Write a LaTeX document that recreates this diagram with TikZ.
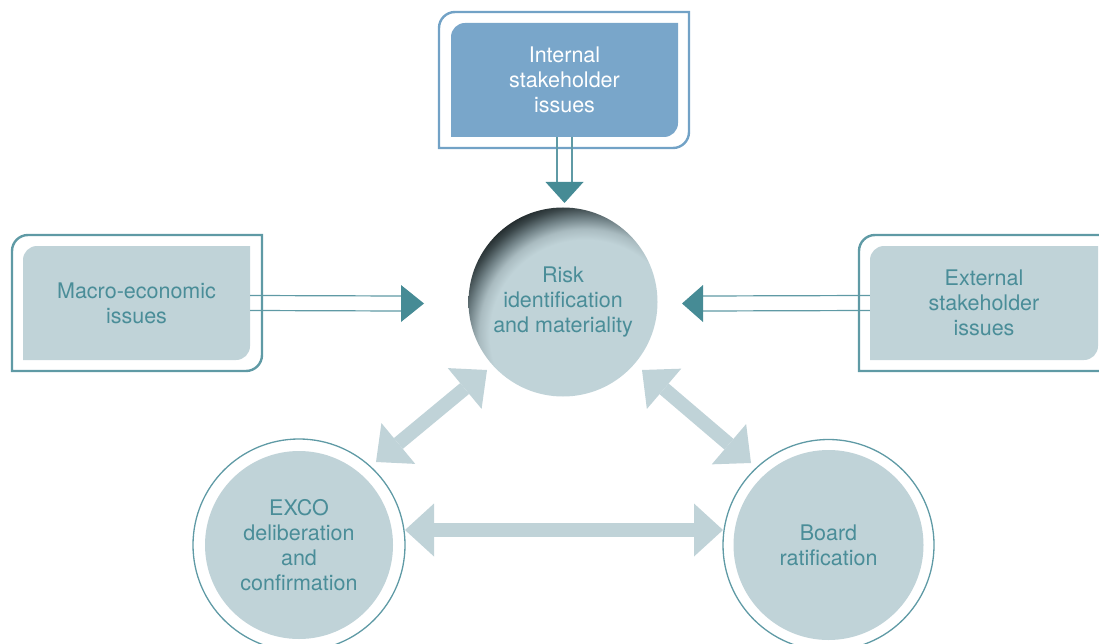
\documentclass[tikz,border=0pt]{standalone}
\usepackage{fontspec}
\setmainfont{TeX Gyre Heros}
\usetikzlibrary{arrows.meta}
\definecolor{lightfill}{HTML}{C0D3D8}
\definecolor{tealtext}{HTML}{4A8D98}
\definecolor{framec}{HTML}{5F9AA5}
\definecolor{headc}{HTML}{468B95}
\definecolor{topfill}{HTML}{79A6CA}
\definecolor{topframe}{HTML}{72A2C6}
\definecolor{shadowc}{HTML}{1E2628}
\definecolor{shadowa}{HTML}{A9BBC0}
\definecolor{shadowb}{HTML}{718287}
\definecolor{shadowd}{HTML}{3A4649}
\pgfdeclareradialshading{innershadow}{\pgfpoint{0bp}{0bp}}{color(0bp)=(lightfill); color(17.5bp)=(lightfill); color(19.5bp)=(shadowa); color(21.5bp)=(shadowb); color(23.5bp)=(shadowd); color(25bp)=(shadowc); color(50bp)=(shadowc)}
\newcommand\cornerbox[5]{(#1,#4) -- (#1,{#2+#5}) .. controls (#1,{#2+0.448*#5}) and ({#1+0.448*#5},#2) .. ({#1+#5},#2) -- (#3,#2) -- (#3,{#4-#5}) .. controls (#3,{#4-0.448*#5}) and ({#3-0.448*#5},#4) .. ({#3-#5},#4) -- cycle}
\begin{document}
\begin{tikzpicture}[x=1pt,y=-1pt,
  frame/.style={draw=framec,line width=2.4pt},
  stem/.style={draw=framec,line width=1.2pt},
  headfill/.style={fill=headc},
  label/.style={font=\fontsize{21.5}{25}\selectfont,text=tealtext,align=center,inner sep=0pt},
  boxlabel/.style={label,minimum width=227pt,minimum height=114pt},
  circlabel/.style={label,circle},
  bigarrow/.style={draw=lightfill,line width=14pt,
    {Triangle[length=29pt,width=53pt,line width=0pt]}-{Triangle[length=29pt,width=53pt,line width=0pt]}}]
\useasboundingbox (0,0) rectangle (1099,644);
\clip (0,0) rectangle (1099,644);
% boxes
\draw[draw=topframe,line width=2.4pt] \cornerbox{439}{12}{689}{148}{16};
\fill[topfill] \cornerbox{451}{23}{678}{137}{14};
\draw[frame] \cornerbox{12}{235}{262}{371}{16};
\fill[lightfill] \cornerbox{23}{246}{250}{360}{14};
\draw[frame] \cornerbox{859}{235}{1120}{371}{16};
\fill[lightfill] \cornerbox{870}{246}{1098}{360}{14};
% central circle with inner shadow
\begin{scope}
  \clip (563,302) circle (94.5pt);
  \shade[shading=innershadow] (585,335) circle (136pt);
\end{scope}
% lower circles
\draw[draw=framec,line width=1.3pt] (299,545) circle (106pt);
\fill[lightfill] (299,545) circle (94pt);
\draw[draw=framec,line width=1.3pt] (828.5,545) circle (105.5pt);
\fill[lightfill] (828.5,545) circle (95pt);
% text nodes
\node[boxlabel,text=white] (intl) at (564.5,80) {Internal\\stakeholder\\issues};
\node[boxlabel] (macro) at (136.5,303) {Macro-economic\\issues};
\node[boxlabel,minimum width=228pt] (ext) at (984,303) {External\\stakeholder\\issues};
\node[circlabel,minimum size=189pt] (risk) at (563,302) {Risk\\identification\\and materiality};
\node[circlabel,minimum size=212pt] (exco) at (299,545) {EXCO\\deliberation\\and\\confirmation};
\node[circlabel,minimum size=211pt] (board) at (828.5,545) {Board\\ratification};
% feeder arrows
\coordinate (ttip) at (564.5,182);
\coordinate (mtip) at (401,303.5);
\coordinate (etip) at (703,303.5);
\draw[stem] ([xshift=-7.5pt]intl.south) -- ([xshift=-7.5pt]ttip);
\draw[stem] ([xshift=7.5pt]intl.south) -- ([xshift=7.5pt]ttip);
\fill[headfill] ([xshift=-19pt]ttip) -- ([xshift=19pt]ttip) -- ([yshift=-21pt]ttip) -- cycle;
\draw[stem] ([yshift=7.5pt]macro.east) -- ([yshift=7.5pt]mtip);
\draw[stem] ([yshift=-7.5pt]macro.east) -- ([yshift=-7.5pt]mtip);
\fill[headfill] ([yshift=18.5pt]mtip) -- ([yshift=-18.5pt]mtip) -- ([xshift=23pt]mtip) -- cycle;
\draw[stem] ([yshift=7.5pt]ext.west) -- ([yshift=7.5pt]etip);
\draw[stem] ([yshift=-7.5pt]ext.west) -- ([yshift=-7.5pt]etip);
\fill[headfill] ([yshift=18.5pt]etip) -- ([yshift=-18.5pt]etip) -- ([xshift=-21pt]etip) -- cycle;
% big double arrows
\draw[bigarrow] ([shift={(77,-83)}]exco.center) -- ([shift={(-76,68)}]risk.center);
\draw[bigarrow] ([shift={(-77.5,-82)}]board.center) -- ([shift={(79,68)}]risk.center);
\draw[bigarrow] ([shift={(106,-15)}]exco.center) -- ([shift={(-105.5,-15)}]board.center);
\end{tikzpicture}
\end{document}
